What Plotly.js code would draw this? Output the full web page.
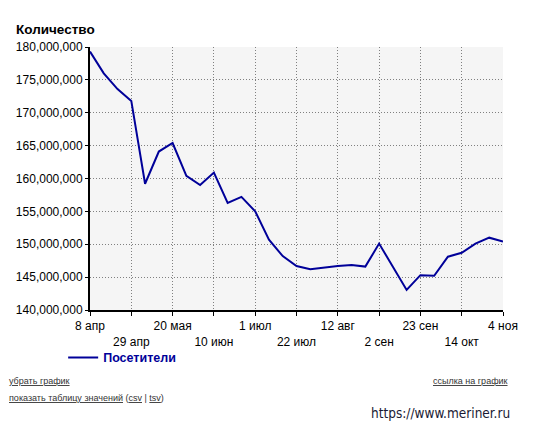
<!DOCTYPE html>
<html>
<head>
<meta charset="utf-8">
<script src="https://cdn.plot.ly/plotly-3.0.1.min.js"></script>
<style>
html,body{margin:0;padding:0;background:#fff;}
#chart{width:544px;height:426px;}
</style>
</head>
<body>
<div id="chart"></div>
<script>
const dates = ["2024-04-08","2024-04-15","2024-04-22","2024-04-29","2024-05-06","2024-05-13","2024-05-20","2024-05-27",
  "2024-06-03","2024-06-10","2024-06-17","2024-06-24","2024-07-01","2024-07-08","2024-07-15","2024-07-22",
  "2024-07-29","2024-08-05","2024-08-12","2024-08-19","2024-08-26","2024-09-02","2024-09-09","2024-09-16",
  "2024-09-23","2024-09-30","2024-10-07","2024-10-14","2024-10-21","2024-10-28","2024-11-04"];
const visitors = [179300000,176000000,173600000,171800000,159200000,164100000,165400000,160400000,
  159000000,160900000,156300000,157200000,155000000,150700000,148200000,146700000,
  146200000,146500000,146700000,146850000,146600000,150100000,146500000,143050000,
  145300000,145200000,148100000,148700000,150100000,151000000,150400000];
const tickDates = ["2024-04-08","2024-04-29","2024-05-20","2024-06-10","2024-07-01","2024-07-22",
  "2024-08-12","2024-09-02","2024-09-23","2024-10-14","2024-11-04"];
const tickLabels = ["8 апр","29 апр","20 мая","10 июн","1 июл","22 июл","12 авг","2 сен","23 сен","14 окт","4 ноя"];
const seriesName = "Посетители";
const yTitle = "Количество";

const tickText = tickLabels.map((t, i) => i % 2 === 0 ? t : " <br>" + t);

const font = "Arial, 'Liberation Sans', sans-serif";
const trace = {
  x: dates, y: visitors, type: "scatter", mode: "lines", name: seriesName,
  line: {color: "#000099", width: 2}
};
const layout = {
  width: 544, height: 426,
  margin: {l: 90, r: 41, t: 47, b: 116},
  paper_bgcolor: "#ffffff", plot_bgcolor: "#f5f5f5",
  font: {family: font, size: 12, color: "#000"},
  showlegend: true,
  legend: {x: -0.065, y: -0.125, xanchor: "left", yanchor: "top", orientation: "h",
    font: {family: font, size: 12.5, color: "#000099", weight: "bold"}, bgcolor: "rgba(0,0,0,0)"},
  xaxis: {
    type: "date", range: ["2024-04-08", "2024-11-04"],
    tickmode: "array", tickvals: tickDates, ticktext: tickText,
    showgrid: true, gridcolor: "#808080", griddash: "1px,2px", gridwidth: 1,
    showline: true, linecolor: "#000", linewidth: 2,
    ticks: "outside", ticklen: 4, tickcolor: "#000", tickwidth: 1,
    tickfont: {family: font, size: 12, color: "#000"}, zeroline: false, fixedrange: true
  },
  yaxis: {
    range: [140000000, 180000000], dtick: 5000000, tick0: 140000000,
    tickformat: ",d",
    showgrid: true, gridcolor: "#808080", griddash: "1px,2px", gridwidth: 1,
    showline: true, linecolor: "#000", linewidth: 2,
    ticks: "outside", ticklen: 3, tickcolor: "#000", tickwidth: 1,
    tickfont: {family: font, size: 12, color: "#000"}, zeroline: false, fixedrange: true
  },
  annotations: [
    {text: "<b>" + yTitle + "</b>", xref: "paper", yref: "paper", x: -0.185, y: 1.068,
     xanchor: "left", yanchor: "middle", showarrow: false, font: {family: font, size: 13.5, color: "#000"}},
    {text: "<u>убрать график</u>", xref: "paper", yref: "paper", x: -0.2, y: -0.27,
     xanchor: "left", yanchor: "middle", showarrow: false, font: {family: font, size: 9, color: "#333"}},
    {text: "<u>показать таблицу значений</u> (<u>csv</u> | <u>tsv</u>)", xref: "paper", yref: "paper", x: -0.2, y: -0.335,
     xanchor: "left", yanchor: "middle", showarrow: false, font: {family: font, size: 9, color: "#333"}},
    {text: "<u>ссылка на график</u>", xref: "paper", yref: "paper", x: 1.018, y: -0.27,
     xanchor: "right", yanchor: "middle", showarrow: false, font: {family: font, size: 9, color: "#333"}},
    {text: "https://www.meriner.ru", xref: "paper", yref: "paper", x: 1.022, y: -0.392,
     xanchor: "right", yanchor: "middle", showarrow: false, font: {family: "'DejaVu Sans Condensed', 'DejaVu Sans', sans-serif", size: 13.5, color: "#1a1a33"}}
  ]
};
Plotly.newPlot("chart", [trace], layout, {displayModeBar: false, staticPlot: true});
</script>
</body>
</html>
